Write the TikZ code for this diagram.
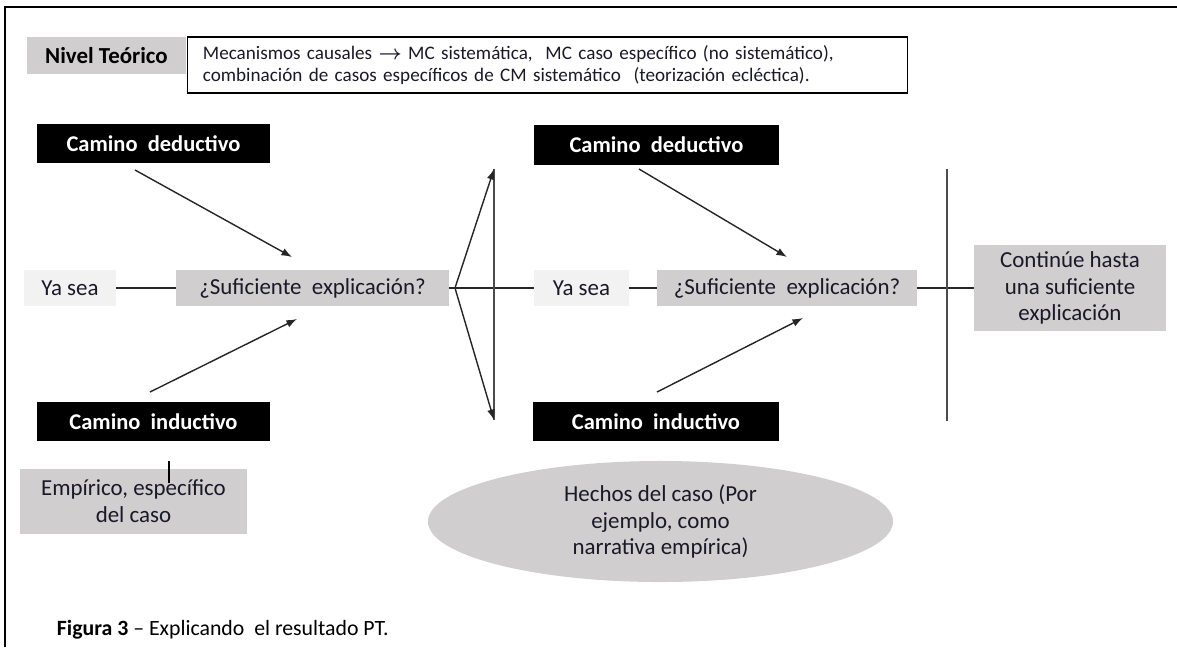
\documentclass[tikz,border=0pt]{standalone}
\usepackage{amsmath}
\usepackage{bm}
\usepackage{fontspec}
\setmainfont{Carlito}
\usepackage{tikz}
\usetikzlibrary{positioning, arrows, arrows.meta, shapes.geometric}
\definecolor{boxgray}{RGB}{208,206,206}
\definecolor{palegray}{RGB}{242,242,242}
\definecolor{ink}{RGB}{25,25,40}
\tikzstyle{blk}=[fill=black, text=white, font=\fontsize{16pt}{19pt}\selectfont\bfseries, minimum height=0.975cm, inner sep=0pt]
\tikzstyle{gry}=[fill=boxgray, text=ink, font=\fontsize{16.3pt}{19pt}\selectfont, minimum height=0.9cm, inner sep=0pt, align=center]
\tikzstyle{pale}=[fill=palegray, text=ink, font=\fontsize{16.3pt}{19pt}\selectfont, minimum height=0.9cm, inner sep=0pt]
\tikzstyle{con}=[line width=1pt, black!85]
\tikzstyle{bar}=[line width=1.3pt, black!70]

\begin{document}
\begin{tikzpicture}[x=0.025cm, y=-0.025cm, node distance=2.5cm, > = {Latex[length=7.5pt, width=5.5pt]}]
\useasboundingbox (0,0) rectangle (1177,647);
\draw [line width=1.8pt] (5,647) -- (5,7) -- (1177,7);
\node [gry, minimum width=3.975cm, minimum height=0.925cm, text=black, font=\fontsize{16.3pt}{19pt}\selectfont\bfseries] (niv) at (106.5,55.5) {Nivel Teórico};
\node [draw, line width=0.8pt, text=ink, font=\fontsize{13.6pt}{15.6pt}\selectfont, inner xsep=0.375cm, inner ysep=0pt, text width=17.225cm, minimum height=1.4cm, align=left] (mec) at (547.5,65) {Mecanismos causales $\bm{\rightarrow}$ MC sistemática,\ \ MC caso específico (no sistemático),\\ combinación de casos específicos de CM sistemático\ \ (teorización ecléctica).};
\node [blk, minimum width=5.825cm] (ded1) at (153.5,143.5) {Camino\ \ deductivo};
\node [gry, minimum width=6.825cm] (suf1) at (312.5,288) {¿Suficiente\ \ explicación?};
\node [pale, minimum width=2.3cm] (ya1) [left of=suf1, node distance=6.0625cm] {Ya sea};
\node [blk, minimum width=5.825cm] (ind1) at (153.5,421.5) {Camino\ \ inductivo};
\node [gry, minimum width=5.675cm, minimum height=1.625cm] (emp) at (133.5,501.5) {Empírico, específico\\ del caso};
\node [pale, minimum width=2.375cm] (ya2) at (581.5,288) {Ya sea};
\node [gry, minimum width=6.5cm] (suf2) [right of=ya2, node distance=5.1375cm] {¿Suficiente\ \ explicación?};
\node [blk, minimum width=6.125cm, minimum height=1cm] (ded2) at (656.5,145) {Camino\ \ deductivo};
\node [blk, minimum width=6.15cm] (ind2) at (656,421.5) {Camino\ \ inductivo};
\node [gry, minimum width=4.8cm, minimum height=2.15cm] (cont) at (1070,288) {Continúe hasta\\ una suficiente\\ explicación};
\node [gry, ellipse, minimum width=11.625cm, minimum height=3.025cm] (hech) at (660.5,521.5) {Hechos del caso (Por\\ ejemplo, como\\ narrativa empírica)};
\node [anchor=west, font=\fontsize{15.5pt}{18pt}\selectfont] (cap) at (52,630) {\textbf{Figura 3} -- Explicando\ \ el resultado PT.};
\coordinate (d1s) at (135,170);
\coordinate (d1e) at (292,257);
\coordinate (i1s) at (150,392);
\coordinate (i1e) at (297,319);
\coordinate (d2s) at (639,169);
\coordinate (d2e) at (787,257);
\coordinate (i2s) at (657,392);
\coordinate (i2e) at (803,318);
\coordinate (fan) at (455,288);
\coordinate (fanup) at (494,169);
\coordinate (fandn) at (494,420);
\coordinate (barup) at (947,169);
\coordinate (bardn) at (947,421);
\coordinate (tick) at (169,461);
\coordinate (ticke) at (169,483);
\draw [con] (ya1) -- (suf1);
\draw [con] (suf1) -- (ya2);
\draw [con] (ya2) -- (suf2);
\draw [con] (suf2) -- (cont);
\draw [bar] (fanup) -- (fandn);
\draw [bar] (barup) -- (bardn);
\draw [line width=1.5pt] (tick) -- (ticke);
\path [->, con] (d1s) edge (d1e);
\path [->, con] (i1s) edge (i1e);
\path [->, con] (d2s) edge (d2e);
\path [->, con] (i2s) edge (i2e);
\path [->, con] (fan) edge (fanup) edge (fandn);
\end{tikzpicture}
\end{document}
